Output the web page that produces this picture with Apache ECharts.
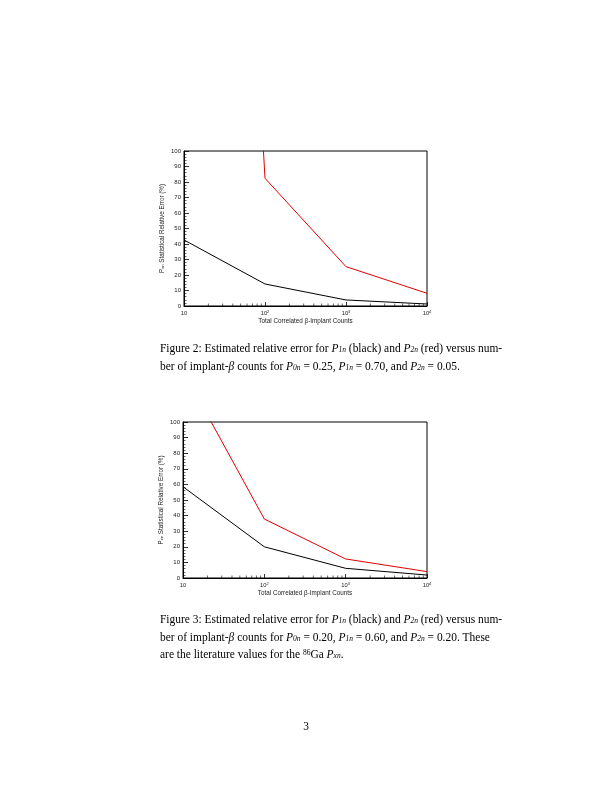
<!DOCTYPE html>
<html>
<head>
<meta charset="utf-8">
<script src="https://cdn.jsdelivr.net/npm/echarts@6/dist/echarts.min.js"></script>
<style>html,body{margin:0;padding:0;background:#fff;}#c{width:612px;height:792px;}</style>
</head>
<body>
<div id="c"></div>
<script>
// ---- data ----
const counts = [10, 100, 1000, 10000];
const fig2P1n = [42.6, 14.2, 3.9, 1.3];
const fig2P2n = [1000, 82.4, 25.4, 8.2];
const fig3P1n = [58.5, 20.0, 6.2, 1.9];
const fig3P2n = [133, 37.8, 12.2, 4.1];
const yTicks = [0, 10, 20, 30, 40, 50, 60, 70, 80, 90, 100];
const xMinorTicks = [20,30,40,50,60,70,80,90,200,300,400,500,600,700,800,900,2000,3000,4000,5000,6000,7000,8000,9000];
const yTitle = 'P{sub|xn} Statistical Relative Error (%)';
const xTitle = 'Total Correlated β-Implant Counts';
const cap2 = [
  'Figure 2: Estimated relative error for {i|P}{sub|1n} (black) and {i|P}{sub|2n} (red) versus num-',
  'ber of implant-{i|β} counts for {i|P}{sub|0n} = 0.25, {i|P}{sub|1n} = 0.70, and {i|P}{sub|2n} = 0.05.'
];
const cap3 = [
  'Figure 3: Estimated relative error for {i|P}{sub|1n} (black) and {i|P}{sub|2n} (red) versus num-',
  'ber of implant-{i|β} counts for {i|P}{sub|0n} = 0.20, {i|P}{sub|1n} = 0.60, and {i|P}{sub|2n} = 0.20. These',
  'are the literature values for the {sup|86}Ga {i|P}{sub|xn}.'
];
const pageNumber = '3';

const chart = echarts.init(document.getElementById('c'), null, {renderer: 'canvas'});
const sans = 'Liberation Sans';
const serif = 'Liberation Serif';
const capSize = 11.45;

const grids = [
  {left: 184, top: 151, width: 243, height: 155},
  {left: 183, top: 422, width: 244, height: 156}
];

function xAxisFor(i) {
  return {
    type: 'log', logBase: 10, gridIndex: i, min: 10, max: 10000,
    axisLine: {show: true, onZero: false, lineStyle: {color: '#000', width: 1}},
    axisTick: {show: true, inside: true, length: 4, lineStyle: {color: '#000', width: 0.8}},
    splitLine: {show: false},
    axisLabel: {
      show: true, margin: 4, fontFamily: sans, fontSize: 5.8, color: '#222',
      formatter: function (v) {
        const e = Math.round(Math.log10(v));
        return e === 1 ? '10' : '10{sup|' + e + '}';
      },
      rich: {sup: {fontSize: 4, fontFamily: sans, color: '#222', verticalAlign: 'top', padding: [0, 0, 3, 0]}}
    },
    name: xTitle, nameLocation: 'middle', nameGap: 12,
    nameTextStyle: {fontFamily: sans, fontSize: 6.3, color: '#222'}
  };
}
function yAxisFor(i) {
  return {
    type: 'value', gridIndex: i, min: 0, max: 100, interval: 10,
    axisLine: {show: true, lineStyle: {color: '#000', width: 1}},
    axisTick: {show: true, inside: true, length: 5, lineStyle: {color: '#000', width: 0.8}},
    minorTick: {show: true, splitNumber: 5, length: 2.5, lineStyle: {color: '#000', width: 0.6}},
    splitLine: {show: false},
    axisLabel: {margin: 3, fontFamily: sans, fontSize: 6, color: '#222'},
    name: yTitle, nameLocation: 'middle', nameGap: 19, nameRotate: 90,
    nameTextStyle: {fontFamily: sans, fontSize: 6.3, color: '#222',
      rich: {sub: {fontSize: 4.2, fontFamily: sans, color: '#222', verticalAlign: 'bottom'}}}
  };
}

function lineSeries(i, ys, color) {
  return {
    type: 'line', xAxisIndex: i, yAxisIndex: i, showSymbol: false, symbol: 'none',
    clip: true, animation: false,
    data: counts.map((c, k) => [c, ys[k]]),
    lineStyle: {color: color, width: 1}
  };
}
function minorTickSeries(i) {
  return {
    type: 'custom', xAxisIndex: i, yAxisIndex: i, animation: false, silent: true,
    data: xMinorTicks.map(v => [v, 0]),
    renderItem: function (params, api) {
      const p = api.coord([api.value(0), 0]);
      return {type: 'line', shape: {x1: p[0], y1: p[1], x2: p[0], y2: p[1] - 2.5},
        style: {stroke: '#000', lineWidth: 0.6}};
    }
  };
}

const capRich = {
  i: {fontFamily: serif, fontStyle: 'italic', fontSize: capSize, color: '#000'},
  sub: {fontFamily: serif, fontStyle: 'italic', fontSize: 7.5, color: '#000', verticalAlign: 'bottom', lineHeight: 10},
  sup: {fontFamily: serif, fontSize: 7.5, color: '#000', verticalAlign: 'top', lineHeight: 10}
};
function capText(txt, x, y) {
  return {type: 'text', x: x, y: y,
    style: {text: txt, fontFamily: serif, fontSize: capSize, fill: '#000', verticalAlign: 'middle', rich: capRich}};
}

const graphics = [];
cap2.forEach((t, k) => graphics.push(capText(t, 160, 349 + k * 18)));
cap3.forEach((t, k) => graphics.push(capText(t, 160, 620 + k * 17.5)));
graphics.push({type: 'text', x: 306, y: 727, style: {text: pageNumber, fontFamily: serif, fontSize: capSize, fill: '#000', align: 'center', verticalAlign: 'middle'}});

chart.setOption({
  animation: false,
  backgroundColor: '#fff',
  grid: grids.map(g => Object.assign({show: true, borderColor: '#000', borderWidth: 1, backgroundColor: 'transparent', containLabel: false}, g)),
  xAxis: [xAxisFor(0), xAxisFor(1)],
  yAxis: [yAxisFor(0), yAxisFor(1)],
  series: [
    lineSeries(0, fig2P1n, '#000000'),
    lineSeries(0, fig2P2n, '#e00000'),
    lineSeries(1, fig3P1n, '#000000'),
    lineSeries(1, fig3P2n, '#e00000'),
    minorTickSeries(0),
    minorTickSeries(1)
  ],
  graphic: graphics
});
</script>
</body>
</html>
